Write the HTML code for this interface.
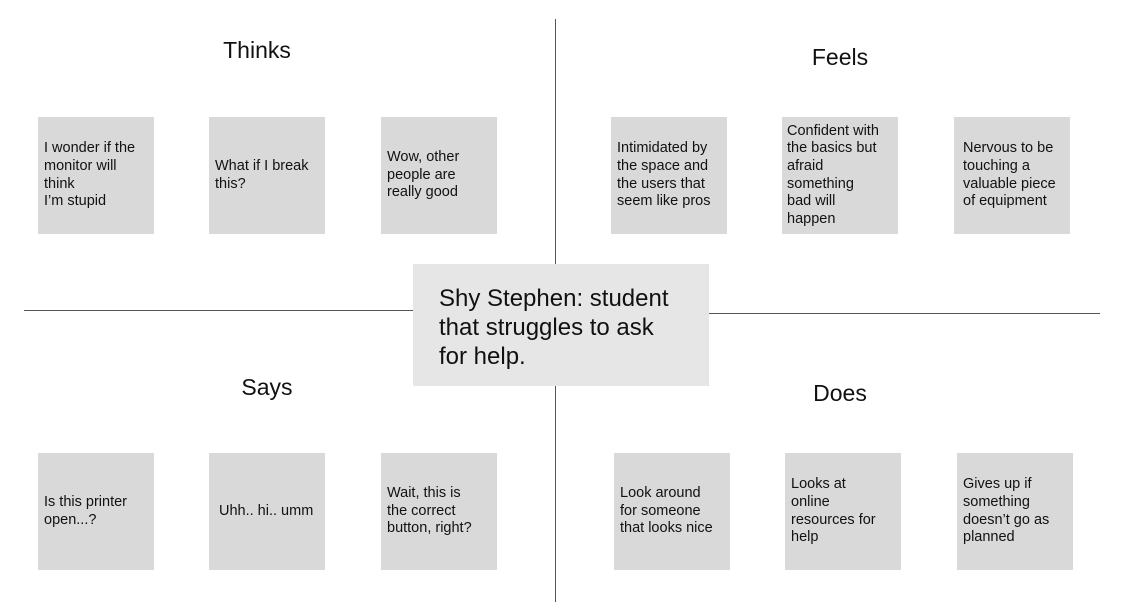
<!DOCTYPE html>
<html><head><style>
body{margin:0;width:1122px;height:602px;background:#fff;position:relative;overflow:hidden;font-family:"Liberation Sans",sans-serif;color:#111}
.l{position:absolute;background:#555}
.b{position:absolute;width:116px;height:117px;background:#d9d9d9;display:flex;align-items:center;box-sizing:border-box;padding:0 0 0 6px;font-size:14.5px;line-height:17.6px;white-space:nowrap}
.t{position:absolute;font-size:23px;transform:translateX(-50%);line-height:1}
.c{position:absolute;left:413px;top:264px;width:296px;height:122px;background:#e6e6e6;box-sizing:border-box;padding:20px 0 0 26px;font-size:24px;line-height:29px;white-space:nowrap}
</style></head><body>
<div class="l" style="left:555px;top:19px;width:1px;height:583px"></div>
<div class="l" style="left:24px;top:310px;width:390px;height:1px"></div>
<div class="l" style="left:709px;top:313px;width:391px;height:1px"></div>
<div class="t" style="left:257px;top:39px">Thinks</div>
<div class="t" style="left:840px;top:46px">Feels</div>
<div class="t" style="left:267px;top:376px">Says</div>
<div class="t" style="left:840px;top:382px">Does</div>
<div class="b" style="left:38px;top:117px">I wonder if the<br>monitor will<br>think<br>I’m stupid</div>
<div class="b" style="left:209px;top:117px">What if I break<br>this?</div>
<div class="b" style="left:381px;top:117px">Wow, other<br>people are<br>really good</div>
<div class="b" style="left:611px;top:117px">Intimidated by<br>the space and<br>the users that<br>seem like pros</div>
<div class="b" style="left:782px;top:117px;padding-left:5px">Confident with<br>the basics but<br>afraid<br>something<br>bad will<br>happen</div>
<div class="b" style="left:954px;top:117px;padding-left:9px">Nervous to be<br>touching a<br>valuable piece<br>of equipment</div>
<div class="b" style="left:38px;top:453px">Is this printer<br>open...?</div>
<div class="b" style="left:209px;top:453px;padding-left:10px">Uhh.. hi.. umm</div>
<div class="b" style="left:381px;top:453px">Wait, this is<br>the correct<br>button, right?</div>
<div class="b" style="left:614px;top:453px">Look around<br>for someone<br>that looks nice</div>
<div class="b" style="left:785px;top:453px">Looks at<br>online<br>resources for<br>help</div>
<div class="b" style="left:957px;top:453px">Gives up if<br>something<br>doesn’t go as<br>planned</div>
<div class="c">Shy Stephen: student<br>that struggles to ask<br>for help.</div>
</body></html>
